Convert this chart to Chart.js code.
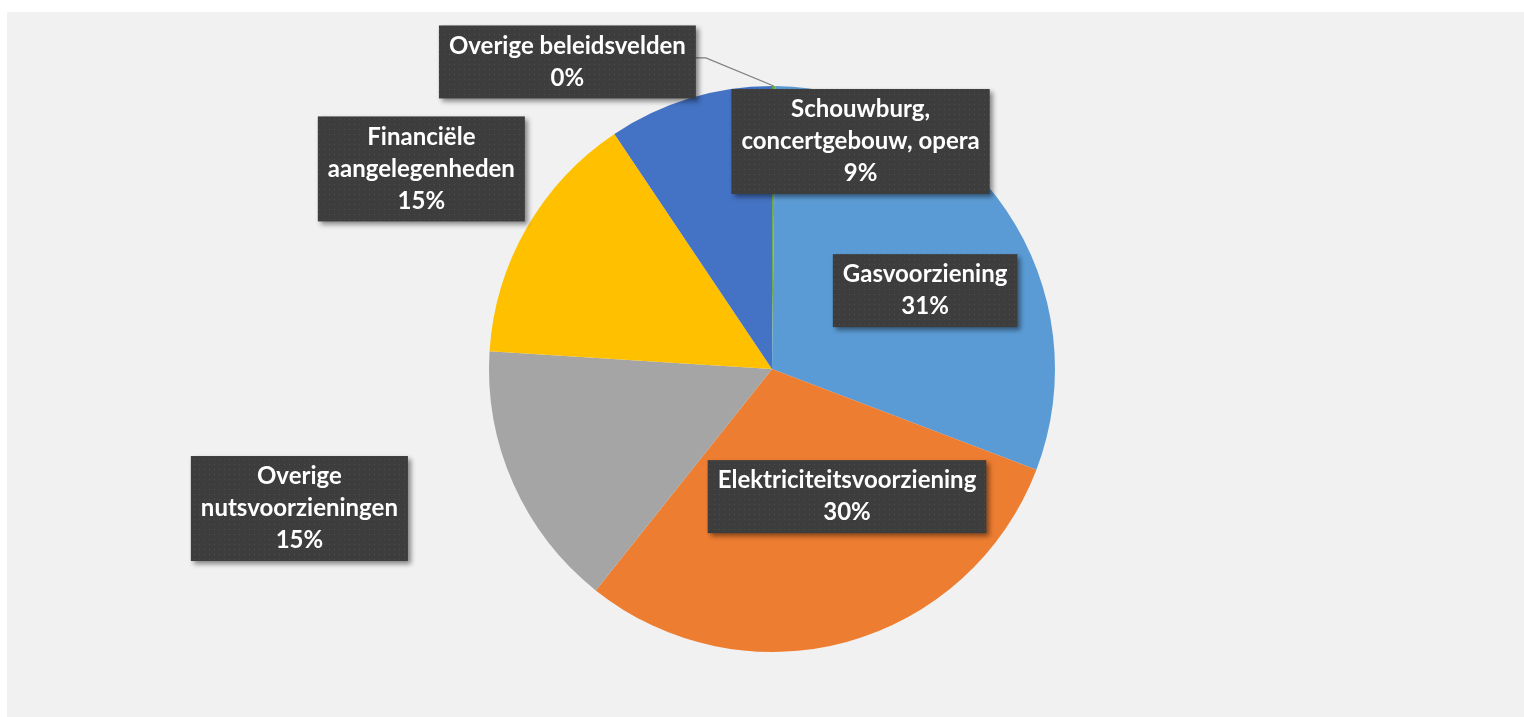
<!DOCTYPE html>
<html>
<head>
<meta charset="utf-8">
<script src="https://cdn.jsdelivr.net/npm/chart.js@4.4.1/dist/chart.umd.min.js"></script>
<style>
  html, body { margin: 0; padding: 0; background: #ffffff; }
  #wrap { position: absolute; left: 7px; top: 12px; width: 1517px; height: 705px; background: #f1f1f1; }
</style>
</head>
<body>
<div id="wrap"><canvas id="pie"></canvas></div>
<script>
// categories in clockwise order starting at 12 o'clock
const categories = [
  'Overige beleidsvelden',
  'Gasvoorziening',
  'Elektriciteitsvoorziening',
  'Overige\nnutsvoorzieningen',
  'Financiële\naangelegenheden',
  'Schouwburg,\nconcertgebouw, opera'
];
const shares = [0.2, 30.6, 29.9, 15.3, 14.6, 9.4];
const colors = ['#70AD47', '#5B9BD5', '#ED7D31', '#A5A5A5', '#FFC000', '#4472C4'];

// where each label box sits, relative to the pie centre, in radii
const labelOffsets = [
  [-0.723, -1.085],
  [0.541, -0.277],
  [0.265, 0.451],
  [-1.670, 0.493],
  [-1.239, -0.707],
  [0.313, -0.804]
];
const labelLeader = [true, false, false, false, false, false];

const total = shares.reduce((a, b) => a + b, 0);

function dotPattern(ctx) {
  const p = document.createElement('canvas');
  p.width = 5; p.height = 5;
  const c = p.getContext('2d');
  c.fillStyle = '#3d3d3d';
  c.fillRect(0, 0, 5, 5);
  c.fillStyle = '#4d4d4d';
  c.fillRect(2, 2, 1, 1);
  return ctx.createPattern(p, 'repeat');
}

const boxLabels = {
  id: 'boxLabels',
  afterDatasetsDraw(chart) {
    const ctx = chart.ctx;
    const arcs = chart.getDatasetMeta(0).data;
    const lineH = 32;
    ctx.save();
    ctx.font = 'bold 24px Lato, "Open Sans", sans-serif';
    ctx.textAlign = 'center';
    ctx.textBaseline = 'middle';
    const fill = dotPattern(ctx);

    arcs.forEach((arc, i) => {
      const R = arc.outerRadius;
      const lines = categories[i].split('\n');
      lines.push(Math.round(shares[i] * 100 / total) + '%');
      const w = Math.max(...lines.map(l => ctx.measureText(l).width)) + 20;
      const h = lines.length * lineH + 9;
      const cx = arc.x + labelOffsets[i][0] * R;
      const cy = arc.y + labelOffsets[i][1] * R;

      if (labelLeader[i]) {
        const a = (arc.startAngle + arc.endAngle) / 2;
        ctx.strokeStyle = '#7f7f7f';
        ctx.lineWidth = 1.2;
        ctx.beginPath();
        ctx.moveTo(cx + w / 2, cy - 4);
        ctx.lineTo(cx + w / 2 + 10, cy - 4);
        ctx.lineTo(arc.x + Math.cos(a) * R, arc.y + Math.sin(a) * R);
        ctx.stroke();
      }

      ctx.save();
      ctx.shadowColor = 'rgba(0,0,0,0.45)';
      ctx.shadowBlur = 5;
      ctx.shadowOffsetX = 3;
      ctx.shadowOffsetY = 3;
      ctx.fillStyle = fill;
      ctx.fillRect(cx - w / 2, cy - h / 2, w, h);
      ctx.restore();

      ctx.fillStyle = '#ffffff';
      lines.forEach((l, k) => {
        ctx.fillText(l, cx, cy - h / 2 + 4.5 + lineH * (k + 0.5));
      });
    });
    ctx.restore();
  }
};

new Chart(document.getElementById('pie'), {
  type: 'pie',
  data: {
    labels: categories,
    datasets: [{
      data: shares,
      backgroundColor: colors,
      borderWidth: 0
    }]
  },
  options: {
    responsive: true,
    maintainAspectRatio: false,
    animation: false,
    layout: { padding: { left: 13, right: 0, top: 74, bottom: 65 } },
    plugins: {
      legend: { display: false },
      tooltip: { enabled: false }
    }
  },
  plugins: [boxLabels]
});
</script>
</body>
</html>
